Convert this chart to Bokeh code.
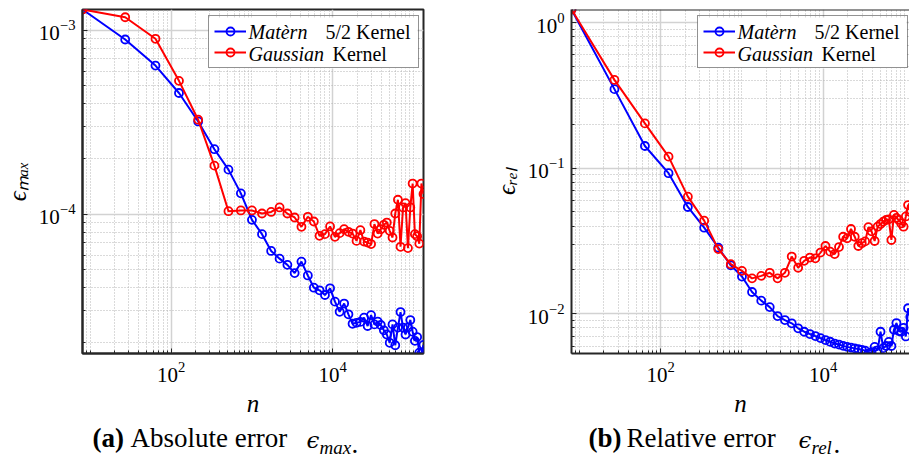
import math
from bokeh.plotting import figure
from bokeh.models import (Range1d, FixedTicker, LogTickFormatter, Legend, LegendItem,
                          Label, Span, BoxAnnotation)
from bokeh.layouts import row, column
from bokeh.embed import file_html
from bokeh.resources import INLINE

# ---------------- data ----------------
n = [8, 27, 64, 125, 216, 343, 512, 729, 1000, 1331, 1728, 2197, 2744, 3375, 4096,
     4913, 5832, 6859, 8000, 9261, 10648, 12167, 13824, 15625, 17576, 19683, 21952,
     24389, 27000, 29791, 32768, 35937, 39304, 42875, 46656, 50653, 54872, 59319,
     64000, 68921, 74088, 79507, 85184, 91125, 97336, 103823, 110592, 117649,
     125000, 132651]

abs_matern = [1.30e-3, 8.93e-4, 6.44e-4, 4.57e-4, 3.20e-4, 2.26e-4, 1.75e-4, 1.30e-4,
              9.33e-5, 7.80e-5, 6.32e-5, 5.74e-5, 5.31e-5, 4.79e-5, 5.53e-5, 4.65e-5,
              3.99e-5, 3.86e-5, 3.64e-5, 3.96e-5, 3.35e-5, 2.95e-5, 3.27e-5, 2.86e-5,
              2.54e-5, 2.57e-5, 2.60e-5, 2.74e-5, 2.47e-5, 2.83e-5, 2.52e-5, 2.61e-5,
              2.50e-5, 2.34e-5, 2.22e-5, 2.00e-5, 2.52e-5, 1.94e-5, 2.42e-5, 2.94e-5,
              2.42e-5, 2.22e-5, 2.42e-5, 2.66e-5, 2.30e-5, 2.05e-5, 2.15e-5, 1.77e-5,
              1.75e-5, 1.95e-5]

abs_gauss = [1.30e-3, 1.18e-3, 9.01e-4, 5.32e-4, 3.27e-4, 1.84e-4, 1.04e-4, 1.05e-4,
             1.05e-4, 1.01e-4, 1.03e-4, 1.09e-4, 1.01e-4, 9.61e-5, 8.55e-5, 9.69e-5,
             9.14e-5, 7.64e-5, 7.80e-5, 8.59e-5, 7.54e-5, 7.90e-5, 8.30e-5, 8.03e-5,
             7.86e-5, 7.17e-5, 8.20e-5, 7.11e-5, 7.02e-5, 6.89e-5, 8.85e-5, 7.86e-5,
             8.30e-5, 8.77e-5, 9.02e-5, 8.13e-5, 7.48e-5, 1.01e-4, 1.20e-4, 6.66e-5,
             1.09e-4, 1.15e-4, 6.55e-5, 1.09e-4, 1.47e-4, 7.80e-5, 7.60e-5, 6.93e-5,
             1.47e-4, 1.29e-4]

rel_matern = [1.23, 0.349, 0.142, 0.0923, 0.0541, 0.0390, 0.0284, 0.0215, 0.0180,
              0.0141, 0.0123, 0.0111, 0.00964, 0.00905, 0.00859, 0.00794, 0.00752,
              0.00725, 0.00702, 0.00680, 0.00659, 0.00642, 0.00624, 0.00614, 0.00601,
              0.00592, 0.00585, 0.00578, 0.00572, 0.00565, 0.00558, 0.00533, 0.00545,
              0.00592, 0.00560, 0.00752, 0.00580, 0.00600, 0.00640, 0.00600, 0.00776,
              0.00863, 0.00760, 0.00752, 0.00800, 0.00698, 0.0109, 0.0095, 0.0102,
              0.0110]

rel_gauss = [1.23, 0.404, 0.203, 0.120, 0.0637, 0.0436, 0.0278, 0.0219, 0.0197,
             0.0175, 0.0182, 0.0191, 0.0175, 0.0191, 0.0247, 0.0207, 0.0231, 0.0243,
             0.0240, 0.0263, 0.0292, 0.0267, 0.0257, 0.0287, 0.0338, 0.0330, 0.0382,
             0.0338, 0.0292, 0.0305, 0.0314, 0.0393, 0.0368, 0.0316, 0.0396, 0.0413,
             0.0429, 0.0441, 0.0445, 0.0321, 0.0477, 0.0455, 0.0441, 0.0417, 0.0396,
             0.0466, 0.0558, 0.0500, 0.0550, 0.0520]

x_major = [1e2, 1e4]
abs_y_major = [1e-5, 1e-4, 1e-3]
rel_y_major = [1e-2, 1e-1, 1e0]

legend_names = [("Matèrn", "5/2 Kernel"), ("Gaussian", "Kernel")]
xlabel = "n"
ylabels = ["ϵₘₐₓ", "ϵᵣₑₗ"]
captions = [("(a)", "Absolute error", "ϵ", "max", "."),
            ("(b)", "Relative error", "ϵ", "rel", ".")]

BLUE = "#0000ff"
RED = "#ff0000"
AX = "#262626"
SERIF = "Liberation Serif"
GREEK = "DejaVu Serif"


def minors(exps, majors):
    out = []
    for e in exps:
        for m in range(1, 10):
            v = m * 10.0 ** e
            if not any(abs(v - M) / M < 1e-9 for M in majors):
                out.append(v)
    return out


def panel(width, mbl, mbr, frame_w, yb, yr, ymajor, yexps, ylabel):
    full_decades = math.log10(n[-1]) - math.log10(n[0])
    x_end = 10 ** (math.log10(n[0]) + full_decades * frame_w / 343.0)
    lo = min(min(yb), min(yr))
    hi = max(max(yb), max(yr))
    p = figure(width=width, height=420, x_axis_type="log", y_axis_type="log",
               x_range=Range1d(n[0], x_end), y_range=Range1d(lo, hi),
               output_backend="svg", toolbar_location=None,
               min_border_left=mbl, min_border_right=mbr,
               min_border_top=9, min_border_bottom=67)
    p.background_fill_color = "white"
    p.border_fill_color = "white"

    p.xaxis.ticker = FixedTicker(ticks=x_major, minor_ticks=minors(range(0, 6), x_major))
    p.yaxis.ticker = FixedTicker(ticks=ymajor, minor_ticks=minors(yexps, ymajor))
    p.xaxis.formatter = LogTickFormatter()
    p.yaxis.formatter = LogTickFormatter()

    for ax in (p.xaxis, p.yaxis):
        ax.axis_line_color = AX
        ax.axis_line_width = 2
        ax.major_tick_in = 5
        ax.major_tick_out = 0
        ax.minor_tick_in = 3
        ax.minor_tick_out = 0
        ax.major_tick_line_color = AX
        ax.minor_tick_line_color = AX
        ax.major_label_text_font = SERIF
        ax.major_label_text_font_size = "21px"
        ax.major_label_text_color = "black"
        ax.axis_label_text_font = SERIF
        ax.axis_label_text_font_style = "italic"
        ax.axis_label_text_font_size = "25px"
        ax.axis_label_text_color = "black"
    p.xaxis.axis_label = xlabel
    p.xaxis.major_label_standoff = 8
    p.xaxis.axis_label_standoff = 5
    p.yaxis.axis_label = ylabel
    p.yaxis.major_label_standoff = 7
    p.yaxis.axis_label_standoff = 5

    for g in (p.xgrid, p.ygrid):
        g.grid_line_color = "#d2d2d2"
        g.grid_line_width = 1.5
        g.minor_grid_line_color = "#b4b4b4"
        g.minor_grid_line_width = 1
        g.minor_grid_line_dash = "1 2"

    lb = p.line(n, yb, line_color=BLUE, line_width=2)
    sb = p.scatter(n, yb, marker="circle", size=8, fill_color=None,
                   line_color=BLUE, line_width=1.8)
    lr = p.line(n, yr, line_color=RED, line_width=2)
    sr = p.scatter(n, yr, marker="circle", size=8, fill_color=None,
                   line_color=RED, line_width=1.8)

    # white legend background, then texts, then transparent legend on top
    p.add_layout(BoxAnnotation(left=126, right=335, bottom=285, top=336,
                               left_units="screen", right_units="screen",
                               bottom_units="screen", top_units="screen",
                               fill_color="white", fill_alpha=1.0, line_color=None))
    rows_y = [322, 300]
    for (it, up), yy, dx in zip(legend_names, rows_y, [77, 84]):
        p.add_layout(Label(x=166, y=yy, x_units="screen", y_units="screen", text=it,
                           text_font=SERIF, text_font_style="italic",
                           text_font_size="20px", text_baseline="middle",
                           text_color="black"))
        p.add_layout(Label(x=166 + dx, y=yy, x_units="screen", y_units="screen", text=up,
                           text_font=SERIF, text_font_size="20px",
                           text_baseline="middle", text_color="black"))

    leg = Legend(items=[LegendItem(label=" ", renderers=[lb, sb]),
                        LegendItem(label=" ", renderers=[lr, sr])],
                 location=(126, 285), padding=5, spacing=1, margin=0,
                 glyph_width=32, glyph_height=20, label_height=20,
                 label_width=164, label_standoff=3,
                 label_text_font_size="10px",
                 border_line_color=AX, border_line_width=1.2,
                 background_fill_alpha=0.0)
    p.add_layout(leg, "center")
    return p


p1 = panel(448, 80, 25, 343, abs_matern, abs_gauss, abs_y_major, range(-5, -2),
           ylabels[0])
p1.outline_line_color = AX
p1.outline_line_width = 2

p2 = panel(461, 123, 0, 338, rel_matern, rel_gauss, rel_y_major, range(-3, 1),
           ylabels[1])
p2.outline_line_color = None
p2.add_layout(Span(location=p2.y_range.end, dimension="width",
                   line_color=AX, line_width=2))

# caption strip (coordinates are page pixels of the strip)
cap = figure(width=909, height=47, x_range=Range1d(0, 909), y_range=Range1d(0, 47),
             output_backend="svg", toolbar_location=None, min_border=0)
cap.axis.visible = False
cap.grid.visible = False
cap.outline_line_color = None
cap.background_fill_color = "white"
cap.border_fill_color = "white"
base = 15
for (tag, words, eps, sub, dot), x0, eps_dx, sub_w in zip(captions, [92, 588],
                                                         [214, 210], [31, 21]):
    cap.add_layout(Label(x=x0, y=base, text=tag, text_font=SERIF,
                         text_font_style="bold", text_font_size="27px",
                         text_color="black"))
    cap.add_layout(Label(x=x0 + 38, y=base, text=words, text_font=SERIF,
                         text_font_size="27px", text_color="black"))
    cap.add_layout(Label(x=x0 + eps_dx, y=base, text=eps, text_font=GREEK,
                         text_font_style="italic", text_font_size="23px",
                         text_color="black"))
    cap.add_layout(Label(x=x0 + eps_dx + 13, y=base - 5, text=sub, text_font=SERIF,
                         text_font_style="italic", text_font_size="19px",
                         text_color="black"))
    cap.add_layout(Label(x=x0 + eps_dx + 14 + sub_w, y=base, text=dot, text_font=SERIF,
                         text_font_size="27px", text_color="black"))

layout = column(row(p1, p2), cap)
open("out.html", "w").write(file_html(layout, INLINE))
